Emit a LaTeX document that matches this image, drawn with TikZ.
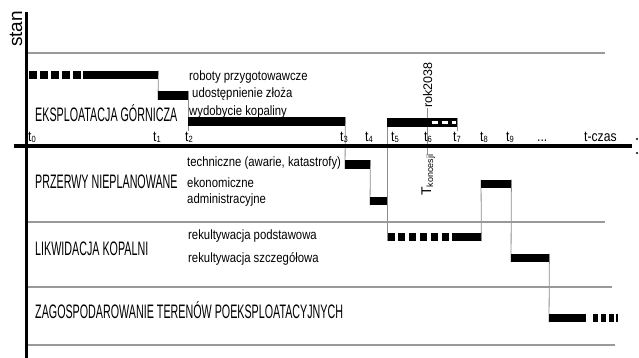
\documentclass[tikz,border=0pt]{standalone}
\usepackage{fontspec}
\setmainfont{Liberation Sans}
\newfontfamily\narrowf[FakeStretch=0.84]{Liberation Sans}
\newfontfamily\condf[FakeStretch=0.55]{Liberation Sans}
\usepackage{tikz}
\usetikzlibrary{backgrounds}

\newcommand{\tind}[1]{t\raisebox{-0.4pt}{\fontsize{9}{9}\selectfont #1}}

\begin{document}
\begin{tikzpicture}[
    x=1pt, y=-1pt,
    axisline/.style={draw=black, line width=3.5pt},
    sepline/.style={draw=black!40, line width=1.1pt},
    link/.style={draw=black!45, line width=0.8pt},
    bar/.style={rectangle, fill=black, inner sep=0pt, anchor=west, minimum height=8.5pt},
    dashbar/.style={draw=black, line width=8.5pt},
    phase/.style={anchor=base west, inner sep=0pt, font=\condf\fontsize{19.5}{22}\selectfont},
    activity/.style={anchor=base west, inner sep=0pt, font=\narrowf\fontsize{13.5}{16}\selectfont},
    tlab/.style={anchor=base west, inner sep=1pt, font=\narrowf\fontsize{14.5}{16}\selectfont}
]
    \useasboundingbox (0,0) rectangle (639,358);

    % Phase labels
    \node[phase] (expl) at (35,122) {EKSPLOATACJA GÓRNICZA};
    \node[phase] (przer) at (35,188) {PRZERWY NIEPLANOWANE};
    \node[phase] (likw) at (35,255) {LIKWIDACJA KOPALNI};
    \node[phase] (zagosp) at (35,318) {ZAGOSPODAROWANIE TERENÓW POEKSPLOATACYJNYCH};

    % Activity labels
    \node[activity] (robtxt) at (189,81) {roboty przygotowawcze};
    \node[activity] (udotxt) at (192,98) {udostępnienie złoża};
    \node[activity] (wydtxt) at (189,116) {wydobycie kopaliny};
    \node[activity] (techtxt) at (187,167) {techniczne (awarie, katastrofy)};
    \node[activity] (ekotxt) at (187,187) {ekonomiczne};
    \node[activity] (admtxt) at (187,203) {administracyjne};
    \node[activity] (rekptxt) at (188,239) {rekultywacja podstawowa};
    \node[activity] (rekstxt) at (188,262) {rekultywacja szczegółowa};

    % Time labels
    \node[tlab] (t0) at (27,142) {\tind{0}};
    \node[tlab] (t1) at (152,142) {\tind{1}};
    \node[tlab] (t2) at (184,142) {\tind{2}};
    \node[tlab] (t3) at (339,142) {\tind{3}};
    \node[tlab] (t4) at (364,142) {\tind{4}};
    \node[tlab] (t5) at (390,142) {\tind{5}};
    \node[tlab] (t6) at (423,142) {\tind{6}};
    \node[tlab] (t7) at (452,142) {\tind{7}};
    \node[tlab] (t8) at (479,142) {\tind{8}};
    \node[tlab] (t9) at (505,142) {\tind{9}};
    \node[tlab] (tdots) at (536,142) {...};
    \node[tlab] (tczas) at (583,142) {t-czas};

    % Axis and rotated labels
    \node[anchor=base west, rotate=90, inner sep=0pt, font=\fontsize{19}{22}\selectfont] (stan) at (22,47) {stan};
    \node[anchor=base west, rotate=90, inner sep=0pt, font=\fontsize{12.5}{14}\selectfont] (rok) at (432,108) {rok2038};
    \node[anchor=base west, rotate=90, inner sep=0pt, font=\fontsize{14}{15}\selectfont] (konc) at (431,196) {T\raisebox{-2pt}{\fontsize{9}{10}\selectfont koncesji}};

    % Bars
    \coordinate (prep0) at (29,75);
    \node[bar, minimum width=75pt] (prep) at (83,75) {};
    \node[bar, minimum width=30pt] (udo) at (158,95.5) {};
    \node[bar, minimum width=157pt] (wyd) at (188,121.5) {};
    \node[bar, minimum width=70pt] (wyd2) at (387,122.5) {};
    \node[bar, minimum width=25pt] (tech) at (345,164.5) {};
    \node[bar, minimum width=16.5pt] (adm) at (370,201) {};
    \node[bar, minimum width=30pt] (eko) at (481,184) {};
    \coordinate (rek0) at (387.5,237);
    \node[bar, minimum width=29pt] (rek1) at (452,237) {};
    \node[bar, minimum width=38pt] (rek2) at (511,258) {};
    \node[bar, minimum width=37pt] (zag) at (549,318) {};

    % Dashed parts of bars
    \draw[dashbar, dash pattern=on 8pt off 3pt] (prep0) -- (prep.west);
    \draw[dashbar, dash pattern=on 7pt off 3.8pt] (rek0) -- (rek1.west);
    \draw[dashbar, dash pattern=on 5pt off 3pt on 5pt off 3pt on 5pt off 2pt on 1.2pt off 9pt] ([xshift=7pt]zag.east) -- ([xshift=32pt]zag.east);
    \draw[white, line width=3pt, dash pattern=on 6pt off 4pt] ([xshift=4pt]rok.west |- wyd2.center) -- ([xshift=-1.5pt]wyd2.east);

    % Step connectors
    \begin{scope}[on background layer]
        \draw[link] (prep.north east) -- (udo.south west);
        \draw[link] (udo.north east) -- (udo.north east |- t2.north);
        \draw[link] (wyd.north east) -- (tech.south west);
        \draw[link] (tech.north east) -- (adm.south west);
        \draw[link] (wyd2.north west) -- (wyd2.north west |- rek1.south);
        \draw[link] (rok.west) -- (rok.west |- konc.east);
        \draw[link] (wyd2.north east) -- (wyd2.north east |- t7.north);
        \draw[link] (eko.north west) -- (rek1.south east);
        \draw[link] (eko.north east) -- (rek2.south west);
        \draw[link] (rek2.north east) -- (zag.south west);
    \end{scope}

    % Separators
    \draw[sepline] (26.5,53) -- (605,53);
    \draw[sepline] (26.5,222) -- (605,222);
    \draw[sepline] (26.5,287) -- (612,287);
    \draw[sepline] (26.5,345) -- (615,345);

    % Axes
    \coordinate (ytop) at (26.5,12);
    \coordinate (ybot) at (26.5,358);
    \coordinate (xleft) at (14,146);
    \coordinate (xright) at (632,146);
    \draw[axisline, line width=2.5pt] (ytop) -- (ybot);
    \draw[axisline] (xleft) -- (xright);
    \fill (637,139) circle[radius=1.1pt];
    \fill (637,153) circle[radius=1.1pt];
\end{tikzpicture}
\end{document}
